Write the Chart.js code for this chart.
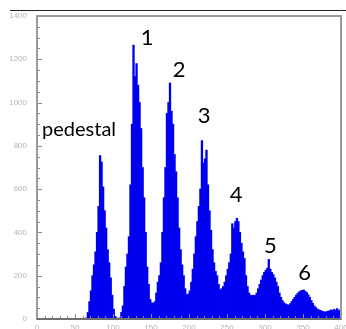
<!DOCTYPE html>
<html>
<head>
<meta charset="utf-8">
<script src="https://cdn.jsdelivr.net/npm/chart.js@4.4.1/dist/chart.umd.min.js"></script>
<style>
  html, body { margin: 0; padding: 0; background: #fff; }
  #wrap { position: relative; width: 346px; height: 329px; }
  #rule { position: absolute; left: 10px; right: 0; top: 10px; height: 1px; background: #222; }
</style>
</head>
<body>
<div id="wrap">
  <div id="rule"></div>
  <canvas id="mycanvas" width="346" height="329"></canvas>
</div>
<script>
// histogram: bins of width 2, starting at 0
var binWidth = 2;
var counts = [
    0, 0, 0, 0, 0, 0, 0, 0, 0, 0,                       // 0-18
    0, 0, 0, 0, 0, 0, 0, 0, 0, 0,                       // 20-38
    0, 0, 0, 0, 0, 0, 0, 0, 0, 0,                       // 40-58
    0, 0, 5, 30, 80, 130, 200, 250, 310, 400,           // 60-78
    520, 755, 725, 610, 500, 420, 320, 260, 190, 110,   // 80-98
    45, 12, 4, 2, 5, 30, 60, 150, 240, 300,             // 100-118
    380, 620, 900, 1265, 1120, 1180, 1080, 1000, 880, 700, // 120-138
    560, 400, 240, 160, 90, 75, 72, 80, 120, 170,       // 140-158
    200, 260, 400, 560, 700, 950, 1000, 1090, 960, 900, // 160-178
    760, 680, 560, 420, 320, 250, 200, 140, 112, 115,   // 180-198
    130, 170, 230, 300, 380, 450, 520, 600, 824, 720,   // 200-218
    740, 780, 620, 500, 410, 320, 260, 220, 200, 160,   // 220-238
    135, 140, 150, 170, 200, 230, 260, 300, 440, 420,   // 240-258
    450, 465, 450, 400, 350, 310, 280, 200, 150, 120,   // 260-278
    110, 108, 110, 108, 120, 140, 160, 180, 200, 215,   // 280-298
    225, 235, 275, 230, 215, 205, 190, 170, 150, 120,   // 300-318
    100, 85, 75, 70, 66, 64, 70, 80, 90, 100,           // 320-338
    110, 118, 125, 130, 132, 134, 128, 122, 112, 100,   // 340-358
    85, 72, 60, 52, 46, 42, 40, 36, 34, 32,             // 360-378
    34, 36, 38, 42, 40, 45, 40, 48, 38, 42              // 380-398
];
var xTicks = [0, 50, 100, 150, 200, 250, 300, 350, 400];
var yTicks = [0, 200, 400, 600, 800, 1000, 1200, 1400];
var peakLabels = ["pedestal", "1", "2", "3", "4", "5", "6"];
var peakLabelX = [6.6, 145, 187, 220, 262, 307, 352];
var peakLabelY = [846, 1266, 1118, 906, 541, 305, 180];

// one bar per bin, placed at the bin centre
var points = counts.map(function (c, i) { return { x: i * binWidth + binWidth / 2, y: c }; });

var frameAndTicks = {
    id: 'frameAndTicks',
    afterDatasetsDraw: function (chart) {
        var ctx = chart.ctx, a = chart.chartArea;
        var sx = chart.scales.x, sy = chart.scales.y;
        ctx.save();
        ctx.strokeStyle = '#8c8c8c';
        ctx.lineWidth = 1;
        // inner minor/major ticks
        for (var v = 0; v <= 1400; v += 50) {
            var py = Math.round(sy.getPixelForValue(v)) + 0.5;
            var len = (v % 200 === 0) ? 5 : 3;
            ctx.beginPath(); ctx.moveTo(a.left, py); ctx.lineTo(a.left + len, py); ctx.stroke();
        }
        for (var u = 0; u <= 400; u += 10) {
            var px = Math.round(sx.getPixelForValue(u)) + 0.5;
            var l2 = (u % 50 === 0) ? 5 : 3;
            ctx.beginPath(); ctx.moveTo(px, a.bottom); ctx.lineTo(px, a.bottom - l2); ctx.stroke();
        }
        // frame
        ctx.strokeStyle = '#9a9a9a';
        ctx.lineWidth = 2;
        ctx.strokeRect(a.left, a.top, a.right - a.left, a.bottom - a.top);
        ctx.strokeStyle = '#6e6e6e';
        ctx.beginPath(); ctx.moveTo(a.left, a.bottom); ctx.lineTo(a.right, a.bottom); ctx.stroke();
        // peak labels
        ctx.fillStyle = '#000';
        ctx.textBaseline = 'alphabetic';
        for (var i = 0; i < peakLabels.length; i++) {
            var tx = sx.getPixelForValue(peakLabelX[i]);
            var ty = sy.getPixelForValue(peakLabelY[i]);
            if (i === 0) { ctx.font = '20px Lato'; ctx.textAlign = 'left'; }
            else { ctx.font = '22px Lato'; ctx.textAlign = 'center'; }
            ctx.fillText(peakLabels[i], tx, ty);
        }
        ctx.restore();
    }
};

var chrt = document.getElementById("mycanvas").getContext("2d");
new Chart(chrt, {
    type: 'bar',
    data: {
        datasets: [{
            data: points,
            backgroundColor: '#0000f0',
            borderWidth: 0,
            barPercentage: 1.0,
            categoryPercentage: 1.0,
            inflateAmount: 0.4
        }]
    },
    options: {
        responsive: false,
        animation: false,
        layout: { padding: { top: 16, right: 5, left: 0, bottom: 0 } },
        plugins: { legend: { display: false }, tooltip: { enabled: false } },
        scales: {
            x: {
                type: 'linear', min: 0, max: 400, offset: false,
                afterBuildTicks: function (s) { s.ticks = xTicks.map(function (v) { return { value: v }; }); },
                afterFit: function (s) { s.height = 10; s.paddingLeft = 0; s.paddingRight = 0; },
                grid: { display: false, drawTicks: false },
                border: { display: false },
                ticks: { font: { size: 8, family: 'Liberation Sans' }, color: '#b4b4b4', padding: 4, maxRotation: 0, autoSkip: false,
                         callback: function (v) { return String(v); } }
            },
            y: {
                min: 0, max: 1400,
                afterBuildTicks: function (s) { s.ticks = yTicks.map(function (v) { return { value: v }; }); },
                afterFit: function (s) { s.width = 37; s.paddingTop = 0; s.paddingBottom = 0; },
                grid: { display: false, drawTicks: false },
                border: { display: false },
                ticks: { font: { size: 8, family: 'Liberation Sans' }, color: '#b4b4b4', padding: 10,
                         callback: function (v) { return String(v); } }
            }
        }
    },
    plugins: [frameAndTicks]
});
</script>
</body>
</html>
